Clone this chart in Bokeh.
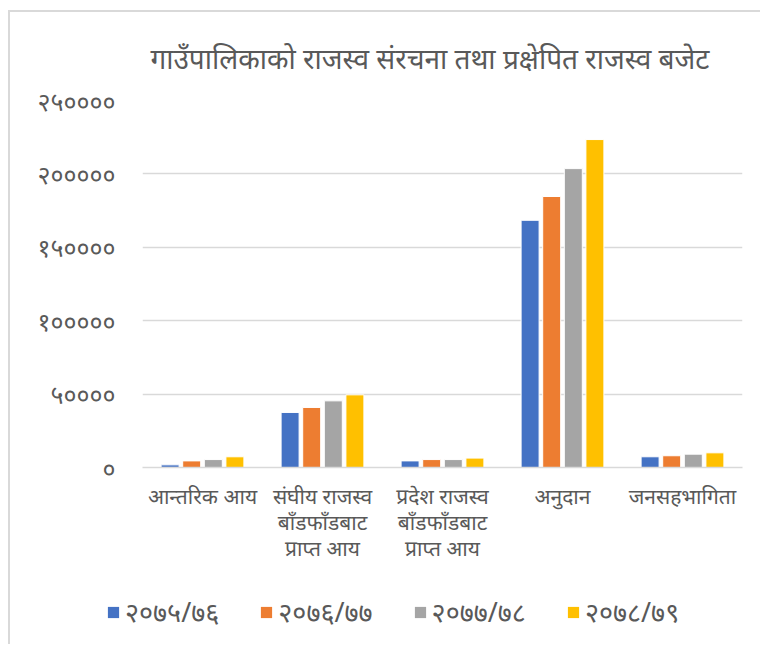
from bokeh.plotting import figure
from bokeh.models import ColumnDataSource, FixedTicker, Range1d, Legend, LegendItem, LinearAxis
from bokeh.layouts import column
from bokeh.transform import dodge
from bokeh.embed import file_html
from bokeh.resources import INLINE

categories = ["आन्तरिक आय", "संघीय राजस्व बाँडफाँडबाट प्राप्त आय",
              "प्रदेश राजस्व बाँडफाँडबाट प्राप्त आय", "अनुदान", "जनसहभागिता"]
label_line1 = ["आन्तरिक आय", "संघीय राजस्व", "प्रदेश राजस्व", "अनुदान", "जनसहभागिता"]
label_line2 = ["", "बाँडफाँडबाट", "बाँडफाँडबाट", "", ""]
label_line3 = ["", "प्राप्त आय", "प्राप्त आय", "", ""]
series_names = ["२०७५/७६", "२०७६/७७", "२०७७/७८", "२०७८/७९"]
y2075 = [1800, 37500, 4500, 168400, 7300]
y2076 = [4500, 40900, 5400, 184600, 8000]
y2077 = [5400, 45400, 5400, 203600, 9100]
y2078 = [7300, 49500, 6400, 223400, 10000]
y_ticks = [0, 50000, 100000, 150000, 200000, 250000]
y_tick_labels = ["०", "५००००", "१०००००", "१५००००", "२०००००", "२५००००"]

colors = ["#4472C4", "#ED7D31", "#A5A5A5", "#FFC000"]
FONT = "Noto Sans"
TXT = "#595959"

idx = list(range(len(categories)))
source = ColumnDataSource(data=dict(x=idx, s0=y2075, s1=y2076, s2=y2077, s3=y2078))

p = figure(x_range=Range1d(-0.5, len(categories) - 0.5), y_range=Range1d(0, 250000),
           width=750, height=570, x_axis_type=None,
           output_backend="svg", toolbar_location=None, frame_align=False,
           min_border_left=132, min_border_right=18, min_border_top=88, min_border_bottom=115)

offsets = [-0.27, -0.09, 0.09, 0.27]
keys = ["s0", "s1", "s2", "s3"]
for i, key in enumerate(keys):
    p.vbar(x=dodge("x", offsets[i]), top=key, width=0.15,
           source=source, fill_color=colors[i], line_color="white", line_width=1)

p.title.text = "गाउँपालिकाको राजस्व संरचना तथा प्रक्षेपित राजस्व बजेट"
p.title.align = "left"
p.title.offset = 8
p.title.text_font = FONT
p.title.text_font_size = "28px"
p.title.text_font_style = "normal"
p.title.text_color = TXT
p.title.standoff = 48

p.outline_line_color = None
p.xgrid.grid_line_color = None
p.ygrid.grid_line_color = "#D9D9D9"
p.ygrid.grid_line_width = 1.5

p.yaxis.ticker = FixedTicker(ticks=y_ticks)
p.yaxis.major_label_overrides = dict(zip(y_ticks, y_tick_labels))
p.yaxis.axis_line_color = None
p.yaxis.major_tick_line_color = None
p.yaxis.minor_tick_line_color = None
p.yaxis.major_label_text_font = FONT
p.yaxis.major_label_text_font_size = "25px"
p.yaxis.major_label_text_font_style = "normal"
p.yaxis.major_label_text_color = TXT
p.yaxis.major_label_standoff = 21


def make_x_axis(labels, standoff):
    ax = LinearAxis(ticker=FixedTicker(ticks=idx))
    ax.major_label_overrides = dict(zip(idx, labels))
    ax.major_tick_line_color = None
    ax.minor_tick_line_color = None
    ax.major_label_text_font = FONT
    ax.major_label_text_font_size = "21px"
    ax.major_label_text_color = TXT
    ax.major_label_standoff = standoff
    ax.axis_line_color = None
    p.add_layout(ax, "below")
    return ax


ax1 = make_x_axis(label_line1, 8)
ax1.axis_line_color = "#D9D9D9"
ax1.axis_line_width = 1.5
make_x_axis(label_line2, -11)
make_x_axis(label_line3, -11)

# legend strip: its own (hidden) copies of the bars feed the legend
lg = figure(x_range=Range1d(-0.5, len(categories) - 0.5), y_range=Range1d(0, 250000),
            width=750, height=62,
            x_axis_type=None, y_axis_type=None, output_backend="svg", toolbar_location=None,
            min_border=0, outline_line_color=None, frame_align=False)
lg.xgrid.grid_line_color = None
lg.ygrid.grid_line_color = None
leg_renderers = [lg.vbar(x=dodge("x", offsets[i]), top=key, width=0.15, source=source,
                         fill_color=colors[i], line_color=None, visible=False)
                 for i, key in enumerate(keys)]
legend = Legend(items=[LegendItem(label=series_names[i], renderers=[leg_renderers[i]])
                       for i in range(len(series_names))],
                orientation="horizontal", location=(96, 14))
legend.label_text_font = FONT
legend.label_text_font_size = "27px"
legend.label_text_color = TXT
legend.glyph_width = 14
legend.glyph_height = 14
legend.spacing = 40
legend.label_standoff = 5
legend.padding = 0
legend.margin = 0
legend.border_line_color = None
legend.background_fill_alpha = 0
legend.inactive_fill_alpha = 0
lg.add_layout(legend, "center")

layout = column(p, lg, spacing=0)
layout.styles = {"margin-left": "8px", "margin-top": "10px",
                 "border-left": "2px solid #D9D9D9", "border-top": "2px solid #D9D9D9"}

open("out.html", "w").write(file_html(layout, INLINE))
